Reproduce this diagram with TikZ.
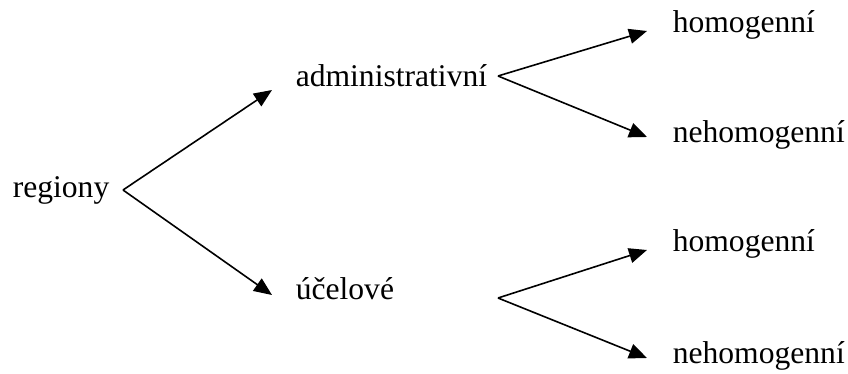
\documentclass[tikz,border=0pt]{standalone}
\usepackage{fontspec}
\setmainfont{Liberation Serif}
\usetikzlibrary{arrows.meta}
\begin{document}
\begin{tikzpicture}[x=0.5pt,y=-0.5pt,line width=0.8pt,
  >={Triangle[length=9pt,width=7.5pt]},
  txt/.style={anchor=base west,inner sep=0pt,font=\fontsize{15.8}{19}\selectfont}]
\useasboundingbox (0,0) rectangle (848,374);
% uzly
\node[txt] (reg) at (12,198) {regiony};
\node[txt] (adm) at (295,87) {administrativní};
\node[txt] (ucel) at (295,300) {účelové};
% listy
\foreach \n/\y/\t in {hom1/33/homogenní,neh1/143/nehomogenní,hom2/252/homogenní,neh2/364/nehomogenní}
  \node[txt] (\n) at (672,\y) {\t};
% rozvetveni
\coordinate (f0) at (123,190);
\coordinate (f1) at (498,76);
\coordinate (f2) at (498,298);
% sipky
\foreach \f/\n/\dx/\dy in {f0/adm/-23/3,f0/ucel/-23/-5,f1/hom1/-25/-2,f1/neh1/-25/-6,f2/hom2/-25/-2,f2/neh2/-25/-6}
  \draw[->] (\f) -- ([shift={(\dx,\dy)}]\n.base west);
\end{tikzpicture}
\end{document}
